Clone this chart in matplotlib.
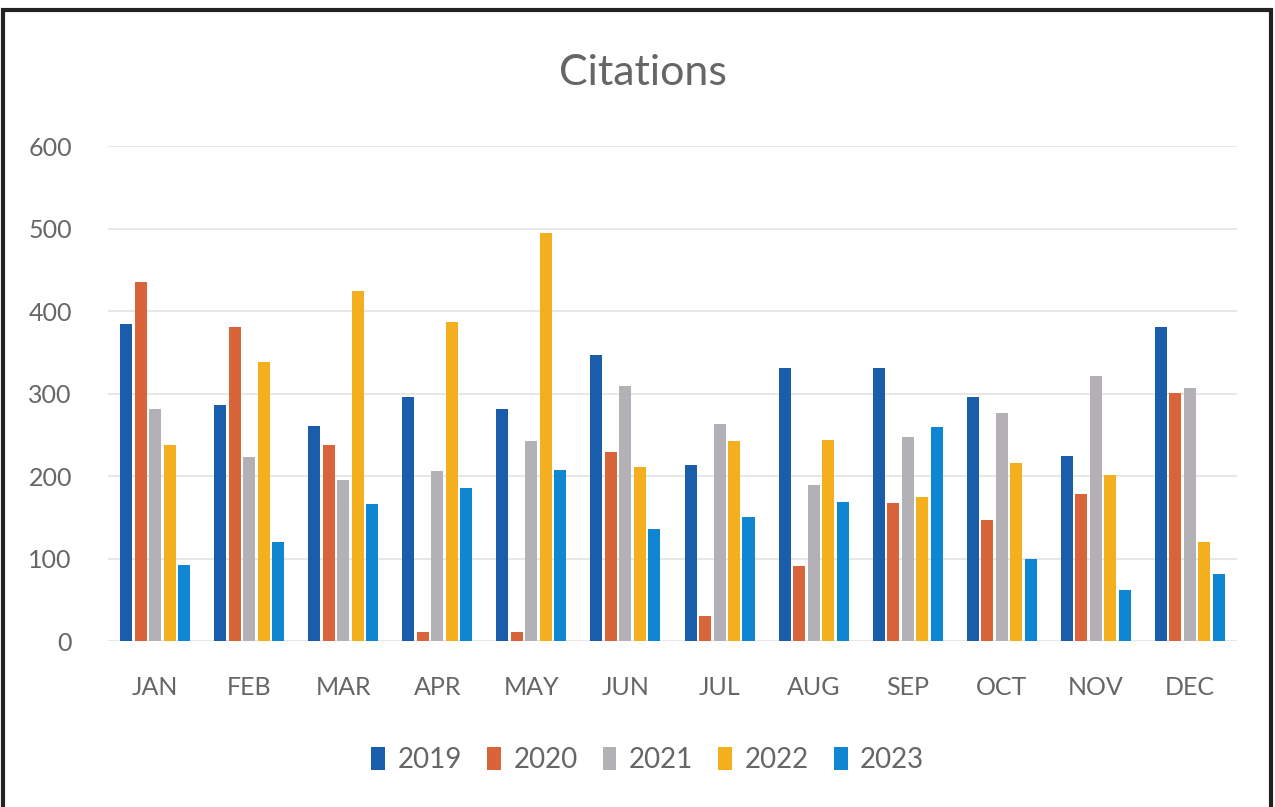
import numpy as np
import matplotlib
matplotlib.use('Agg')
import matplotlib.pyplot as plt
from matplotlib.patches import Rectangle

# data
months = ['JAN', 'FEB', 'MAR', 'APR', 'MAY', 'JUN', 'JUL', 'AUG', 'SEP', 'OCT', 'NOV', 'DEC']
years = ['2019', '2020', '2021', '2022', '2023']
c2019 = [385, 286, 261, 296, 281, 347, 213, 331, 331, 296, 224, 381]
c2020 = [436, 381, 238, 11, 11, 229, 30, 91, 167, 147, 178, 301]
c2021 = [281, 223, 195, 206, 242, 309, 263, 189, 247, 276, 321, 307]
c2022 = [238, 338, 425, 387, 495, 211, 242, 244, 175, 216, 201, 120]
c2023 = [92, 120, 166, 185, 208, 136, 150, 168, 259, 99, 62, 81]
colors = ['#1A5DAB', '#D9643A', '#B3B1B5', '#F4AF1E', '#0E86D1']

plt.rcParams['font.family'] = ['Lato', 'DejaVu Sans']
txt = '#666666'

fig = plt.figure(figsize=(12.75, 8.07), dpi=100)
ax = fig.add_axes([0.0847, 0.2057, 0.8855, 0.613])

x = np.arange(len(months))
step = 0.154
width = 0.128
series = [c2019, c2020, c2021, c2022, c2023]
for k, (vals, yr, col) in enumerate(zip(series, years, colors)):
    ax.bar(x + (k - 2) * step, vals, width, color=col, label=yr, zorder=3)

ax.set_xlim(-0.5, len(months) - 0.5)
ax.set_ylim(0, 600)
ax.set_yticks(range(0, 601, 100))
ax.set_xticks(x)
ax.set_xticklabels(months)
ax.tick_params(axis='both', length=0, labelsize=18, colors=txt)
ax.tick_params(axis='y', pad=26)
ax.tick_params(axis='x', pad=25)
ax.grid(axis='y', color='#E3E3E3', linewidth=1.2, zorder=0)
for s in ax.spines.values():
    s.set_visible(False)

fig.text(0.504, 0.91, 'Citations', ha='center', va='center', fontsize=31, color=txt)

leg = fig.legend(loc='center', bbox_to_anchor=(0.508, 0.058), ncol=5, frameon=False,
                 fontsize=20, handlelength=0.5, handleheight=0.9, handletextpad=0.45,
                 columnspacing=0.9, labelcolor=txt)

# dark frame round the chart
fig.patches.append(Rectangle((3 / 1275, -0.05), 1 - 7 / 1275, 1 - 10 / 807 + 0.05,
                             transform=fig.transFigure, fill=False, edgecolor='#222222',
                             linewidth=3))

fig.savefig('out.png', dpi=100)
